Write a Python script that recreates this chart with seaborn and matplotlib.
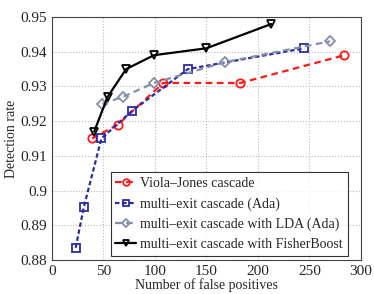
import matplotlib
matplotlib.use("Agg")
import matplotlib.pyplot as plt
import seaborn as sns
import pandas as pd

# values
vj_fp = [39, 64, 108, 183, 284]
vj_dr = [0.915, 0.919, 0.931, 0.931, 0.939]

ada_fp = [23, 31, 48, 78, 132, 245]
ada_dr = [0.8835, 0.8953, 0.915, 0.923, 0.935, 0.941]

lda_fp = [49, 69, 99, 168, 270]
lda_dr = [0.925, 0.927, 0.931, 0.937, 0.943]

fb_fp = [41, 54, 72, 99, 150, 213]
fb_dr = [0.917, 0.927, 0.935, 0.939, 0.941, 0.948]

labels = ["Viola\u2013Jones cascade",
          "multi\u2013exit cascade (Ada)",
          "multi\u2013exit cascade with LDA (Ada)",
          "multi\u2013exit cascade with FisherBoost"]

sns.set_style("white")
plt.rcParams["font.family"] = ["Liberation Serif", "DejaVu Serif"]

fig = plt.figure(figsize=(3.74, 2.94), dpi=100)
ax = fig.add_axes([0.139, 0.116, 0.826, 0.826])

series = [
    (vj_fp, vj_dr, labels[0], "#ff1a1a", "o", (3, 2)),
    (ada_fp, ada_dr, labels[1], "#2b2ba6", "s", (2, 1.2)),
    (lda_fp, lda_dr, labels[2], "#8590a8", "D", (3, 2)),
    (fb_fp, fb_dr, labels[3], "black", "v", None),
]

for fp, dr, lab, col, mk, dash in series:
    df = pd.DataFrame({"fp": fp, "dr": dr})
    sns.lineplot(data=df, x="fp", y="dr", ax=ax, color=col, marker=mk,
                 markersize=6 if mk != "D" else 5.5,
                 markerfacecolor="none", markeredgecolor=col,
                 markeredgewidth=1.3, linewidth=1.6, label=lab,
                 sort=False, estimator=None)
    ln = ax.lines[-1]
    if dash is not None:
        ln.set_dashes(dash)

ax.set_xlim(0, 300)
ax.set_ylim(0.88, 0.95)
ax.set_xticks([0, 50, 100, 150, 200, 250, 300])
ax.set_yticks([0.88, 0.89, 0.9, 0.91, 0.92, 0.93, 0.94, 0.95])
ax.set_yticklabels(["0.88", "0.89", "0.9", "0.91", "0.92", "0.93", "0.94", "0.95"])
ax.grid(True, linestyle=":", color="#bbbbbb", linewidth=0.8)
ax.tick_params(direction="in", labelsize=11, length=3)
for sp in ax.spines.values():
    sp.set_color("#444444")
    sp.set_linewidth(0.8)

ax.set_xlabel("Number of false positives", fontsize=10, labelpad=0)
ax.set_ylabel("Detection rate", fontsize=10, labelpad=2)

leg = ax.legend(loc="lower right", bbox_to_anchor=(0.958, 0.016),
                fontsize=10, frameon=True, fancybox=False,
                edgecolor="black", handlelength=1.5, handletextpad=0.3,
                borderaxespad=0, labelspacing=0.5, borderpad=0.35,
                markerscale=0.8)
leg.get_frame().set_linewidth(0.8)

fig.savefig("out.png", dpi=100)
